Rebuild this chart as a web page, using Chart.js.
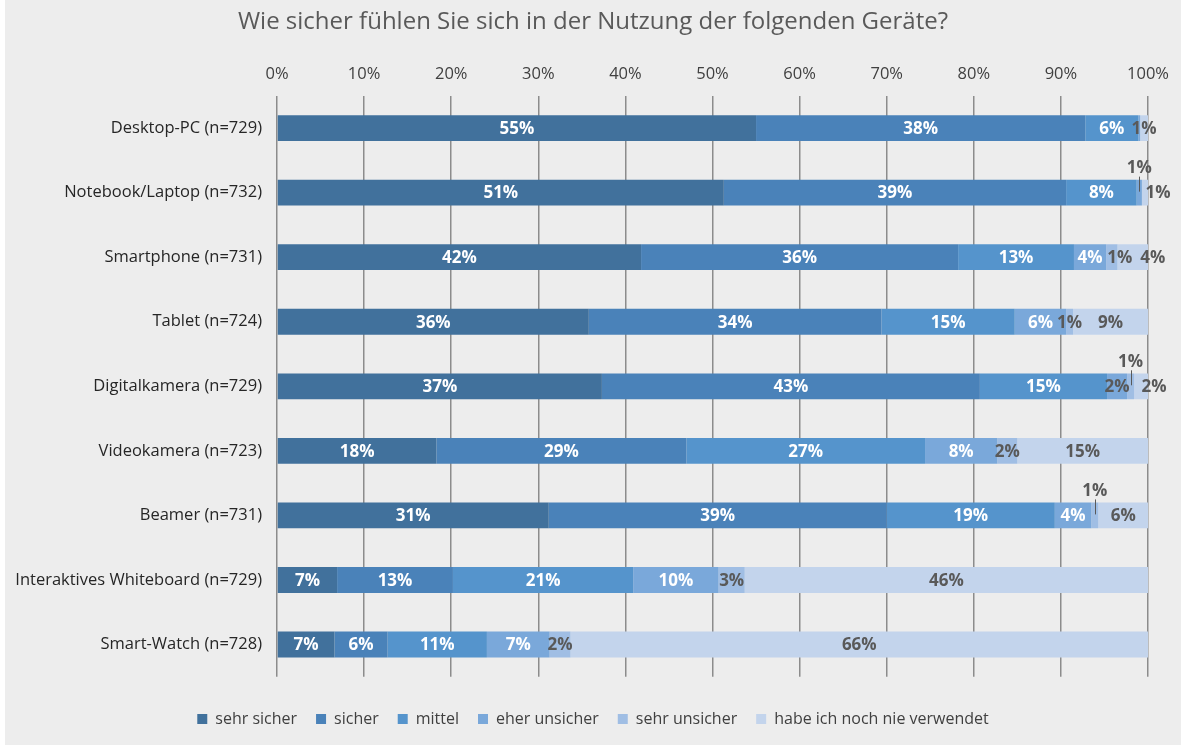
<!DOCTYPE html>
<html>
<head>
<meta charset="utf-8">
<script src="https://cdn.jsdelivr.net/npm/chart.js@4/dist/chart.umd.min.js"></script>
<style>
  html, body { margin: 0; padding: 0; background: #ffffff; }
  #wrap { position: absolute; left: 5px; top: 0; width: 1176px; height: 745px; background: #ededed; }
  canvas { display: block; }
</style>
</head>
<body>
<div id="wrap"><canvas id="c" width="1176" height="745"></canvas></div>
<script>
const categories = [
  'Desktop-PC (n=729)',
  'Notebook/Laptop (n=732)',
  'Smartphone (n=731)',
  'Tablet (n=724)',
  'Digitalkamera (n=729)',
  'Videokamera (n=723)',
  'Beamer (n=731)',
  'Interaktives Whiteboard (n=729)',
  'Smart-Watch (n=728)'
];
const seriesNames = ['sehr sicher', 'sicher', 'mittel', 'eher unsicher', 'sehr unsicher', 'habe ich noch nie verwendet'];
const sehrSicher   = [55.0, 51.3, 41.8, 35.8, 37.3, 18.3, 31.2, 6.9, 6.6];
const sicher       = [37.8, 39.3, 36.4, 33.6, 43.4, 28.7, 38.8, 13.3, 6.1];
const mittel       = [6.1, 8.1, 13.3, 15.3, 14.6, 27.4, 19.3, 20.7, 11.4];
const eherUnsicher = [0.2, 0.6, 3.7, 5.9, 2.3, 8.3, 4.2, 9.8, 7.2];
const sehrUnsicher = [0.0, 0.0, 1.3, 0.8, 0.8, 2.3, 0.8, 3.0, 2.4];
const nieVerwendet = [0.9, 0.7, 3.5, 8.6, 1.6, 15.0, 5.7, 46.3, 66.3];
const xTicks = [0, 10, 20, 30, 40, 50, 60, 70, 80, 90, 100];

const colors = ['#41719c', '#4a82b9', '#5594cc', '#7aa8da', '#a0bee4', '#c3d4ec'];
const seriesValues = [sehrSicher, sicher, mittel, eherUnsicher, sehrUnsicher, nieVerwendet];

// label placement tweaks (category index, dataset index)
const labelTweaks = [
  {c: 1, d: 3, callout: true},
  {c: 1, d: 5, dx: 13},
  {c: 2, d: 4, dx: 8},
  {c: 2, d: 5, dx: 20},
  {c: 4, d: 4, callout: true},
  {c: 4, d: 5, dx: 13},
  {c: 6, d: 4, callout: true}
];

const FONT = "'Open Sans', 'Noto Sans', sans-serif";

const labelPlugin = {
  id: 'segLabels',
  afterDatasetsDraw(chart) {
    const ctx = chart.ctx;
    ctx.save();
    ctx.font = 'bold 17px ' + FONT;
    ctx.textAlign = 'center';
    ctx.textBaseline = 'middle';
    chart.data.datasets.forEach((ds, d) => {
      const meta = chart.getDatasetMeta(d);
      meta.data.forEach((el, c) => {
        const v = ds.data[c];
        const r = Math.round(v);
        if (r < 1) return;
        const txt = r + '%';
        const w = Math.abs(el.x - el.base);
        let cx = (el.x + el.base) / 2;
        let cy = el.y;
        const tw = ctx.measureText(txt).width;
        const tw2 = labelTweaks.find(t => t.c === c && t.d === d);
        let color = (d < 4 && tw + 2 <= w) ? '#ffffff' : '#595959';
        if (tw2 && tw2.callout) {
          color = '#595959';
          ctx.strokeStyle = '#595959';
          ctx.lineWidth = 1;
          ctx.beginPath();
          ctx.moveTo(Math.round(cx) + 0.5, cy - 16);
          ctx.lineTo(Math.round(cx) + 0.5, cy - 1);
          ctx.stroke();
          cy = cy - 25;
        }
        if (tw2 && tw2.dx) cx += tw2.dx;
        ctx.fillStyle = color;
        ctx.fillText(txt, cx, cy + 1);
      });
    });
    ctx.restore();
  }
};

const datasets = seriesNames.map((name, i) => ({
  label: name,
  data: seriesValues[i],
  backgroundColor: colors[i],
  borderWidth: 0,
  categoryPercentage: 0.4,
  barPercentage: 1.0
}));

new Chart(document.getElementById('c'), {
  type: 'bar',
  data: { labels: categories, datasets },
  options: {
    indexAxis: 'y',
    responsive: false,
    animation: false,
    devicePixelRatio: 1,
    layout: { padding: { left: 0, right: 0, top: 0, bottom: 8 } },
    scales: {
      x: {
        position: 'top',
        stacked: true,
        min: 0, max: 100,
        afterBuildTicks(scale) { scale.ticks = xTicks.map(v => ({value: v})); },
        afterFit(scale) { scale.height = 59; },
        ticks: {
          callback: v => v + '%',
          color: '#404040',
          font: { family: FONT, size: 16.5 },
          padding: 12
        },
        grid: { color: '#8c8c8c', lineWidth: 1.5, drawTicks: false },
        border: { display: false }
      },
      y: {
        stacked: true,
        afterFit(scale) { scale.width = 272; },
        ticks: {
          color: '#262626',
          font: { family: FONT, size: 16.5 },
          padding: 7
        },
        grid: { display: false },
        border: { display: false }
      },
      yRight: {
        type: 'category',
        position: 'right',
        display: true,
        afterFit(scale) { scale.width = 33; },
        ticks: { display: false },
        grid: { display: false },
        border: { display: false }
      }
    },
    plugins: {
      title: {
        display: true,
        text: 'Wie sicher fühlen Sie sich in der Nutzung der folgenden Geräte?',
        color: '#595959',
        font: { family: FONT, size: 24, weight: 'normal' },
        padding: { top: 8, bottom: 0 }
      },
      legend: {
        position: 'bottom',
        title: { display: true, text: '', font: { size: 1 }, padding: { top: 14, bottom: 0 } },
        labels: {
          boxWidth: 10,
          boxHeight: 10,
          padding: 19,
          color: '#404040',
          font: { family: FONT, size: 16 }
        }
      },
      tooltip: { enabled: false }
    }
  },
  plugins: [labelPlugin]
});
</script>
</body>
</html>
